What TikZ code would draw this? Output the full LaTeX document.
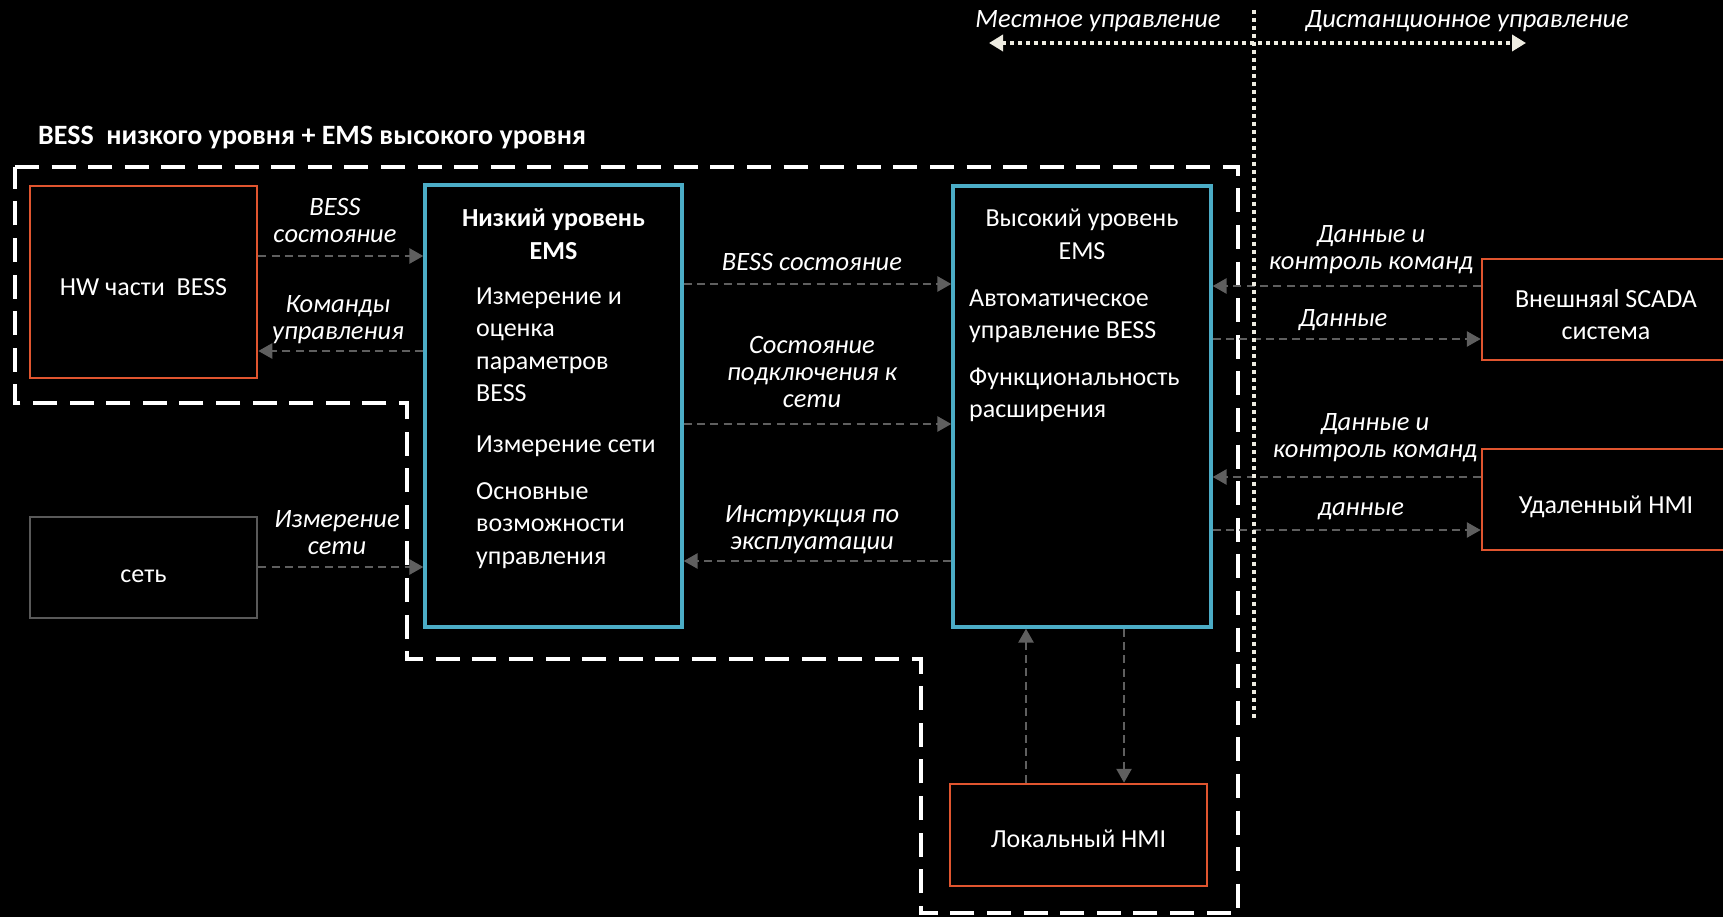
\documentclass[tikz,border=0pt]{standalone}
\usepackage{fontspec}
\setmainfont{Carlito}
\usetikzlibrary{arrows.meta}
\definecolor{redor}{HTML}{E0552F}
\definecolor{cyanb}{HTML}{4BACC6}
\definecolor{arrg}{HTML}{5F5F5F}
\definecolor{netg}{HTML}{595959}
\definecolor{cream}{HTML}{EEECE1}
\newcommand{\mylines}[2]{\begin{tabular}[t]{@{}#1@{}}#2\end{tabular}}
\newcommand{\fbody}{\fontsize{26}{32.5}\selectfont}
\newcommand{\flab}{\fontsize{26.5}{27}\selectfont\itshape}
\begin{document}
\begin{tikzpicture}[x=1pt,y=-1pt,
  box/.style={draw, inner sep=0pt, fill=none},
  obox/.style={box, draw=redor, line width=2.5pt},
  cbox/.style={box, draw=cyanb, line width=3.3pt},
  gbox/.style={box, draw=netg, line width=2.5pt},
  txt/.style={text=white, inner sep=0pt, font=\fbody, anchor=base},
  lbl/.style={text=white, inner sep=0pt, font=\flab, anchor=base},
  flow/.style={draw=arrg, line width=2.7pt, dash pattern=on 8pt off 5.3pt, -{Triangle[length=14pt,width=15pt]}},
  outer/.style={draw=white, line width=4pt, dash pattern=on 24pt off 12.6pt},
  dots/.style={draw=cream, line width=3.5pt, dash pattern=on 4pt off 4pt}
]
\fill[black] (0,0) rectangle (1723,917);
\useasboundingbox (0,0) rectangle (1723,917);
\clip (0,0) rectangle (1723,917);

% title
\node[text=white, inner sep=0pt, anchor=base west, font=\fontsize{28}{32}\selectfont\bfseries] (title) at (38,145) {BESS\ \ низкого уровня + EMS высокого уровня};

% outer dashed boundary
\draw[outer] (15,167) -- (1238,167) -- (1238,913) -- (921,913) -- (921,659) -- (407,659) -- (407,403) -- (15,403) -- cycle;

% boxes
\node[obox, minimum width=227pt, minimum height=192pt] (hw) at (143.5,282) {};
\node[gbox, minimum width=227pt, minimum height=101pt] (net) at (143.5,567.5) {};
\node[cbox, minimum width=257pt, minimum height=442pt] (low) at (553.5,406) {};
\node[cbox, minimum width=258pt, minimum height=441pt] (high) at (1082,406.5) {};
\node[obox, minimum width=248pt, minimum height=101pt] (scada) at (1606,309.5) {};
\node[obox, minimum width=248pt, minimum height=101pt] (rhmi) at (1606,499.5) {};
\node[obox, minimum width=257pt, minimum height=102pt] (lhmi) at (1078.5,835) {};

% box texts
\node[txt] (hwt) at (143.5,295) {HW части\ \ BESS};
\node[txt] (nett) at (143.5,582) {сеть};
\node[txt] (scadat) at (1606,307) {\mylines{c}{Внешняяl SCADA\\система}};
\node[txt] (rhmit) at (1606,513) {Удаленный HMI};
\node[txt] (lhmit) at (1078.5,847) {Локальный HMI};

\node[txt, font=\fbody\bfseries] (lowh) at (553.5,227) {\mylines{c}{Низкий уровень\\EMS}};
\node[txt, anchor=base west] (low1) at (476,304) {\mylines{l}{Измерение и\\оценка\\параметров\\BESS}};
\node[txt, anchor=base west] (low2) at (476,452) {Измерение сети};
\node[txt, anchor=base west] (low3) at (476,499) {\mylines{l}{Основные\\возможности\\управления}};

\node[txt] (highh) at (1082,227) {\mylines{c}{Высокий уровень\\EMS}};
\node[txt, anchor=base west] (high1) at (969,306) {\mylines{l}{Автоматическое\\управление BESS}};
\node[txt, anchor=base west] (high2) at (969,385) {\mylines{l}{Функциональность\\расширения}};

% connectors
\draw[flow] (hw.east |- 0,256) -- (low.west |- 0,256);
\draw[flow] (low.west |- 0,351) -- (hw.east |- 0,351);
\draw[flow] (net.east |- 0,567) -- (low.west |- 0,567);
\draw[flow] (low.east |- 0,284) -- (high.west |- 0,284);
\draw[flow] (low.east |- 0,424) -- (high.west |- 0,424);
\draw[flow] (high.west |- 0,561) -- (low.east |- 0,561);
\draw[flow] (scada.west |- 0,286) -- (high.east |- 0,286);
\draw[flow] (high.east |- 0,339) -- (scada.west |- 0,339);
\draw[flow] (rhmi.west |- 0,477) -- (high.east |- 0,477);
\draw[flow] (high.east |- 0,530) -- (rhmi.west |- 0,530);
\draw[flow] (lhmi.north -| 1026,0) -- (high.south -| 1026,0);
\draw[flow] (high.south -| 1124,0) -- (lhmi.north -| 1124,0);

% connector labels
\node[lbl] (l1) at (335,216) {\mylines{c}{BESS\\состояние}};
\node[lbl] (l2) at (338,312) {\mylines{c}{Команды\\управления}};
\node[lbl] (l3) at (337,527) {\mylines{c}{Измерение\\сети}};
\node[lbl] (l4) at (812,270) {BESS состояние};
\node[lbl] (l5) at (812,353) {\mylines{c}{Состояние\\подключения к\\сети}};
\node[lbl] (l6) at (812,522) {\mylines{c}{Инструкция по\\эксплуатации}};
\node[lbl] (l7) at (1371,243) {\mylines{c}{Данные и\\контроль команд}};
\node[lbl] (l8) at (1343,326) {Данные};
\node[lbl] (l9) at (1375,430) {\mylines{c}{Данные и\\контроль команд}};
\node[lbl] (l10) at (1361,515) {данные};

% local / remote divider
\coordinate (vtop) at (1254,10);
\coordinate (vbot) at (1254,718);
\draw[dots] (vtop) -- (vbot);
\coordinate (hl) at (989,43);
\coordinate (hr) at (1526,43);
\draw[dots, {Triangle[length=14pt,width=16pt,fill=cream]}-{Triangle[length=14pt,width=16pt,fill=cream]}] (hl) -- (hr);
\node[lbl] (loc) at (1098,28) {Местное управление};
\node[lbl] (rem) at (1467,28) {Дистанционное управление};
\end{tikzpicture}
\end{document}
